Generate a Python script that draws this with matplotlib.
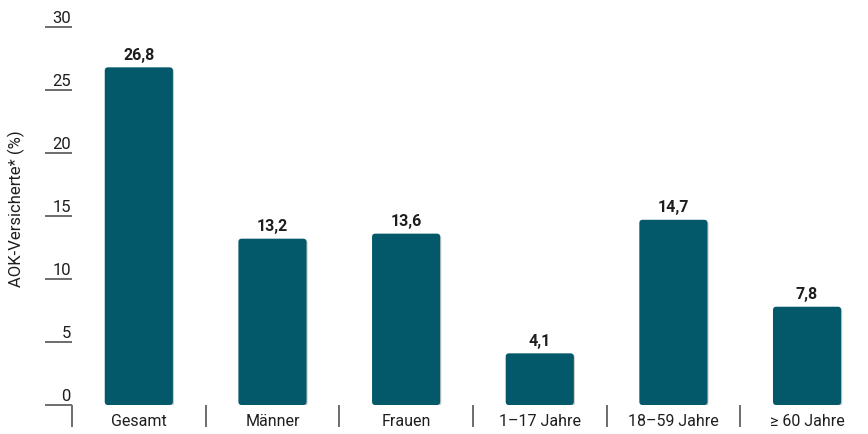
import matplotlib
matplotlib.use('Agg')
import matplotlib.pyplot as plt
from matplotlib.patches import FancyBboxPatch
from matplotlib.transforms import ScaledTranslation
import matplotlib.patheffects as pe

categories = ['Gesamt', 'Männer', 'Frauen', '1–17 Jahre', '18–59 Jahre', '≥ 60 Jahre']
values = [26.8, 13.2, 13.6, 4.1, 14.7, 7.8]
value_labels = ['26,8', '13,2', '13,6', '4,1', '14,7', '7,8']
yticks = [0, 5, 10, 15, 20, 25, 30]

plt.rcParams['font.family'] = ['Roboto', 'DejaVu Sans']

bar_color = '#03596a'
line_color = '#707070'
text_color = '#1e1e1e'
px = 72 / 100  # points per pixel at dpi 100

fig = plt.figure(figsize=(8.68, 4.35), dpi=100)
ax = fig.add_axes([72 / 868, 1 - 406 / 435, 1 - 72 / 868, (406 - 28) / 435])
ax.set_xlim(-0.5, 5.456)
ax.set_ylim(0, 30)

bars = ax.bar(range(len(values)), values, width=0.51, color=bar_color)
# swap the plain bars for rounded ones with a soft shadow
aspect = (133.6 / 12.6)
for b in bars:
    x, y = b.get_x(), b.get_y()
    w, h = b.get_width(), b.get_height()
    b.set_visible(False)
    p = FancyBboxPatch((x, y), w, h, boxstyle='round,pad=0,rounding_size=0.025',
                       mutation_aspect=aspect, facecolor=bar_color, edgecolor='none',
                       zorder=3)
    p.set_path_effects([pe.SimplePatchShadow(offset=(0.8, -0.8), shadow_rgbFace='#000000', alpha=0.2),
                        pe.Normal()])
    ax.add_patch(p)

for i, (v, lab) in enumerate(zip(values, value_labels)):
    ax.annotate(lab, (i, v), xytext=(0, 4), textcoords='offset points',
                ha='center', va='bottom', fontsize=11.5, fontweight='bold', color=text_color)

for s in ax.spines.values():
    s.set_visible(False)

ax.set_yticks(yticks)
ax.set_yticklabels([str(t) for t in yticks], va='bottom')
ax.tick_params(axis='y', length=27 * px, width=2 * px, color=line_color,
               pad=-26 * px, labelsize=12, labelcolor=text_color)
for lab in ax.get_yticklabels():
    lab.set_transform(lab.get_transform() + ScaledTranslation(0, 2 / 100, fig.dpi_scale_trans))

ax.set_xticks(range(len(categories)))
ax.set_xticklabels(categories)
ax.set_xticks([i - 0.5 for i in range(len(categories))], minor=True)
ax.tick_params(axis='x', which='major', length=0, pad=6, labelsize=11.5, labelcolor=text_color)
ax.tick_params(axis='x', which='minor', length=22 * px, width=2 * px, color=line_color)

fig.text(16 / 868, 1 - 209 / 435, 'AOK-Versicherte* (%)', rotation=90,
         ha='center', va='center', fontsize=12, color=text_color)

fig.savefig('out.png', dpi=100)
